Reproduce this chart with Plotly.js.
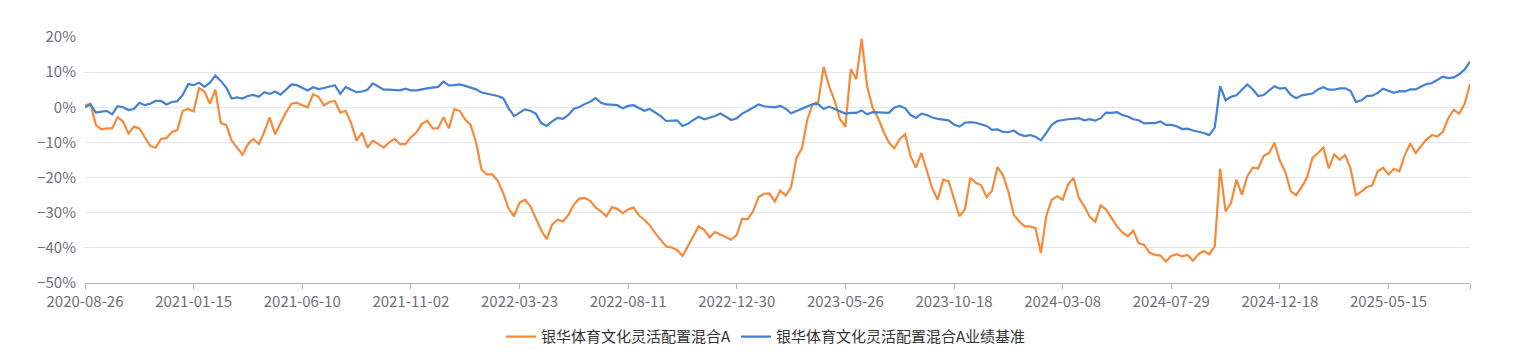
<!DOCTYPE html>
<html>
<head>
<meta charset="utf-8">
<script src="https://cdn.plot.ly/plotly-3.0.1.min.js"></script>
<style>
html,body{margin:0;padding:0;background:#fff;}
#chart{width:1532px;height:352px;}
</style>
</head>
<body>
<div id="chart"></div>
<script>
// Sampled dates (category axis, one sample ~ every 5 trading days)
const dates = [
"2020-08-26","2020-09-02","2020-09-09","2020-09-16","2020-09-23","2020-09-30","2020-10-07","2020-10-14","2020-10-21","2020-10-28",
"2020-11-04","2020-11-11","2020-11-18","2020-11-25","2020-12-02","2020-12-09","2020-12-16","2020-12-23","2020-12-30","2021-01-06",
"2021-01-15","2021-01-22","2021-01-29","2021-02-05","2021-02-12","2021-02-19","2021-02-26","2021-03-05","2021-03-12","2021-03-19",
"2021-03-26","2021-04-02","2021-04-09","2021-04-16","2021-04-23","2021-04-30","2021-05-07","2021-05-14","2021-05-21","2021-05-28",
"2021-06-10","2021-06-17","2021-06-24","2021-07-01","2021-07-08","2021-07-15","2021-07-22","2021-07-29","2021-08-05","2021-08-12",
"2021-08-19","2021-08-26","2021-09-02","2021-09-09","2021-09-16","2021-09-23","2021-09-30","2021-10-07","2021-10-14","2021-10-21",
"2021-11-02","2021-11-09","2021-11-16","2021-11-23","2021-11-30","2021-12-07","2021-12-14","2021-12-21","2021-12-28","2022-01-04",
"2022-01-11","2022-01-18","2022-01-25","2022-02-01","2022-02-08","2022-02-15","2022-02-22","2022-03-01","2022-03-08","2022-03-15",
"2022-03-23","2022-03-30","2022-04-06","2022-04-13","2022-04-20","2022-04-27","2022-05-04","2022-05-11","2022-05-18","2022-05-25",
"2022-06-01","2022-06-08","2022-06-15","2022-06-22","2022-06-29","2022-07-06","2022-07-13","2022-07-20","2022-07-27","2022-08-03",
"2022-08-11","2022-08-18","2022-08-25","2022-09-01","2022-09-08","2022-09-15","2022-09-22","2022-09-29","2022-10-06","2022-10-13",
"2022-10-20","2022-10-27","2022-11-03","2022-11-10","2022-11-17","2022-11-24","2022-12-01","2022-12-08","2022-12-15","2022-12-22",
"2022-12-30","2023-01-06","2023-01-13","2023-01-20","2023-01-27","2023-02-03","2023-02-10","2023-02-17","2023-02-24","2023-03-03",
"2023-03-10","2023-03-17","2023-03-24","2023-03-31","2023-04-07","2023-04-14","2023-04-21","2023-04-28","2023-05-05","2023-05-12",
"2023-05-26","2023-06-02","2023-06-09","2023-06-16","2023-06-23","2023-06-30","2023-07-07","2023-07-14","2023-07-21","2023-07-28",
"2023-08-04","2023-08-11","2023-08-18","2023-08-25","2023-09-01","2023-09-08","2023-09-15","2023-09-22","2023-09-29","2023-10-06",
"2023-10-18","2023-10-25","2023-11-01","2023-11-08","2023-11-15","2023-11-22","2023-11-29","2023-12-06","2023-12-13","2023-12-20",
"2023-12-27","2024-01-03","2024-01-10","2024-01-17","2024-01-24","2024-01-31","2024-02-07","2024-02-14","2024-02-21","2024-02-28",
"2024-03-08","2024-03-15","2024-03-22","2024-03-29","2024-04-05","2024-04-12","2024-04-19","2024-04-26","2024-05-03","2024-05-10",
"2024-05-17","2024-05-24","2024-05-31","2024-06-07","2024-06-14","2024-06-21","2024-06-28","2024-07-05","2024-07-12","2024-07-19",
"2024-07-29","2024-08-05","2024-08-12","2024-08-19","2024-08-26","2024-09-02","2024-09-09","2024-09-16","2024-09-23","2024-09-30",
"2024-10-07","2024-10-14","2024-10-21","2024-10-28","2024-11-04","2024-11-11","2024-11-18","2024-11-25","2024-12-02","2024-12-09",
"2024-12-18","2024-12-25","2025-01-01","2025-01-08","2025-01-15","2025-01-22","2025-01-29","2025-02-05","2025-02-12","2025-02-19",
"2025-02-26","2025-03-05","2025-03-12","2025-03-19","2025-03-26","2025-04-02","2025-04-09","2025-04-16","2025-04-23","2025-04-30",
"2025-05-15","2025-05-22","2025-05-29","2025-06-05","2025-06-12","2025-06-19","2025-06-26","2025-07-03","2025-07-10","2025-07-17",
"2025-07-24","2025-07-31","2025-08-07","2025-08-14","2025-08-21","2025-08-28"
];

// 银华体育文化灵活配置混合A (cumulative return, %)
const fundReturn = [
0.5,1.0,-5,-6.3,-6,-6,-2.8,-4,-7.5,-5.5,
-6,-8.5,-11,-11.5,-9,-8.8,-7,-6.5,-1,-0.5,
-1.2,5.5,4.5,1,5,-4.5,-5,-9.5,-11.5,-13.5,
-10.5,-9,-10.5,-7,-2.9,-7.7,-4.5,-1.5,1.0,1.3,
0.6,0,3.7,3,0.5,1.5,1.8,-1.5,-1.0,-4.5,
-9.5,-7.2,-11.5,-9.5,-10.5,-11.5,-10,-9,-10.5,-10.5,
-8.5,-7.2,-4.8,-3.8,-6,-6,-2.8,-6,-0.5,-1,
-3.5,-5,-10,-17.7,-19.1,-19.1,-20.9,-24.4,-28.9,-31,
-27.2,-26.3,-28.2,-31.5,-35,-37.5,-33.4,-32,-32.5,-30.6,
-27.7,-26,-25.8,-26.6,-28.5,-29.6,-31,-28.4,-28.9,-30.1,
-29.1,-28.5,-30.8,-32,-33.6,-35.8,-37.7,-39.6,-39.9,-40.6,
-42.3,-39.6,-36.5,-33.9,-34.9,-37,-35.5,-36.3,-37,-37.7,
-36.3,-31.7,-31.9,-29.6,-25.6,-24.6,-24.5,-26.8,-23.7,-25.1,
-22.8,-14.4,-11.7,-3.4,0.9,1.5,11.5,6,2,-3.4,
-5.5,10.9,8,19.5,6,-0.1,-3,-6.8,-10,-11.7,
-9.1,-7.7,-13.9,-17.2,-13,-18.2,-23.1,-26.3,-20.6,-21,
-25.8,-31,-29.1,-20.1,-21.5,-22.2,-25.6,-23.7,-17,-19.3,
-23.9,-30.6,-32.5,-33.9,-33.9,-34.4,-41.5,-30.8,-26.3,-25.3,
-26.3,-22,-20.1,-25.8,-28.2,-31.2,-32.6,-27.9,-29.1,-31.5,
-33.9,-35.6,-36.7,-35.1,-38.7,-39.1,-41.4,-42,-42.2,-43.9,
-42.3,-41.8,-42.4,-42,-43.7,-41.8,-40.9,-41.8,-39.6,-17.5,
-29.6,-27.2,-20.6,-24.9,-19.6,-17.2,-17.4,-13.9,-13,-10.1,
-15.3,-18.4,-23.9,-25,-22.7,-19.9,-14.4,-13,-11.5,-17.4,
-13.4,-14.9,-13.6,-17.4,-25,-24,-22.7,-22.2,-18.2,-17.2,
-19.1,-17.5,-18.2,-13.6,-10.3,-13,-11,-9.1,-7.9,-8.3,
-7,-3.1,-0.7,-1.8,0.9,6.6
];

// 银华体育文化灵活配置混合A业绩基准 (benchmark return, %)
const benchReturn = [
0,0.8,-1.5,-1.3,-1.0,-2.0,0.3,0,-0.8,-0.5,
1.3,0.6,1.0,1.8,1.8,0.8,1.5,1.7,3.5,6.6,
6.3,7.0,5.8,7,9,7.5,5.6,2.5,2.8,2.5,
3.2,3.5,3.0,4.3,3.8,4.5,3.6,5.0,6.5,6.3,
5.5,4.8,5.7,5.2,5.5,6.0,6.3,3.8,5.8,5.0,
4.3,4.5,5.0,6.8,6.0,5.0,5.0,5.0,4.8,5.3,
4.8,4.8,5.2,5.4,5.6,5.8,7.3,6.2,6.3,6.5,
6.1,5.6,5.1,4.2,3.9,3.4,3.2,2.6,-0.3,-2.5,
-1.5,-0.6,-1.0,-1.8,-4.5,-5.3,-4.0,-3.0,-3.3,-2.2,
-0.4,0.1,0.9,1.6,2.6,1.3,0.8,0.7,0.6,-0.3,
0.4,0.6,-0.1,-1.0,-0.5,-1.5,-2.5,-3.9,-3.7,-3.7,
-5.3,-4.7,-3.6,-2.7,-3.4,-3.0,-2.5,-1.8,-2.6,-3.6,
-3.1,-1.8,-1.0,-0.1,0.8,0.3,0.2,0,0.4,-0.4,
-1.7,-1.0,-0.5,0.3,0.9,0.9,-0.5,0.2,-0.5,-1.2,
-1.8,-1.6,-1.6,-0.9,-2,-1.4,-1.5,-1.4,-1.6,-0.1,
0.4,-0.3,-2.2,-3.0,-1.8,-2.2,-2.9,-3.3,-3.4,-3.7,
-4.9,-5.5,-4.4,-4.2,-4.4,-4.9,-5.3,-6.4,-6.3,-7.0,
-7.1,-6.6,-7.7,-8.2,-7.9,-8.4,-9.4,-7.3,-5.0,-3.9,
-3.6,-3.4,-3.3,-3.1,-3.7,-3.4,-3.8,-3.1,-1.5,-1.6,
-1.4,-2.2,-2.6,-3.4,-3.7,-4.6,-4.5,-4.5,-4.0,-5.0,
-5.0,-5.4,-6.2,-6.1,-6.6,-6.9,-7.3,-7.9,-5.8,6.0,
2.0,3.0,3.4,5.0,6.5,5.1,3.2,3.5,4.7,6.0,
5.3,5.5,3.5,2.6,3.4,3.7,3.9,5.1,5.7,5.0,
5.0,5.4,5.4,4.7,1.5,2,3.2,3.3,4.1,5.3,
4.7,4.1,4.6,4.5,5.1,5.1,5.9,6.6,6.9,7.7,
8.7,8.3,8.5,9.4,10.7,13.0
];

const tickDates = ["2020-08-26","2021-01-15","2021-06-10","2021-11-02","2022-03-23","2022-08-11","2022-12-30","2023-05-26","2023-10-18","2024-03-08","2024-07-29","2024-12-18","2025-05-15"];
const seriesNames = ["银华体育文化灵活配置混合A","银华体育文化灵活配置混合A业绩基准"];
const seriesColors = ["#f68a3a","#4381d2"];

const traces = [
  {x: dates, y: fundReturn, name: seriesNames[0], type: "scatter", mode: "lines",
   line: {color: seriesColors[0], width: 2.2}},
  {x: dates, y: benchReturn, name: seriesNames[1], type: "scatter", mode: "lines",
   line: {color: seriesColors[1], width: 2.2}}
];

const tickvals = tickDates.concat([dates[dates.length - 1]]);
const ticktext = tickDates.concat([""]);

const layout = {
  width: 1532, height: 352,
  margin: {l: 85, r: 62, t: 37, b: 69},
  paper_bgcolor: "#fff", plot_bgcolor: "#fff",
  font: {family: "'Noto Sans CJK SC', 'Noto Sans', sans-serif", color: "#6E7079", size: 15},
  showlegend: true,
  legend: {orientation: "h", xref: "container", yref: "container", x: 0.5, xanchor: "center",
           y: 0.043, yanchor: "middle", font: {size: 15, color: "#333"}, itemwidth: 30, traceorder: "normal"},
  xaxis: {type: "category", range: [0, dates.length - 1], tickmode: "array", tickvals: tickvals, ticktext: ticktext,
          showgrid: false, showline: true, linecolor: "#b0b3b8", linewidth: 1, ticks: "outside", ticklen: 5,
          tickcolor: "#b0b3b8", tickfont: {size: 15, color: "#6E7079"}, zeroline: false, fixedrange: true},
  yaxis: {range: [-50, 20], dtick: 10, tick0: 0, ticksuffix: "%", showgrid: true, gridcolor: "#e3e6ec",
          zeroline: false, showline: false, ticks: "", ticklabelstandoff: 8,
          tickfont: {size: 15, color: "#6E7079"}, fixedrange: true}
};

Plotly.newPlot("chart", traces, layout, {displayModeBar: false, staticPlot: true});
</script>
</body>
</html>
